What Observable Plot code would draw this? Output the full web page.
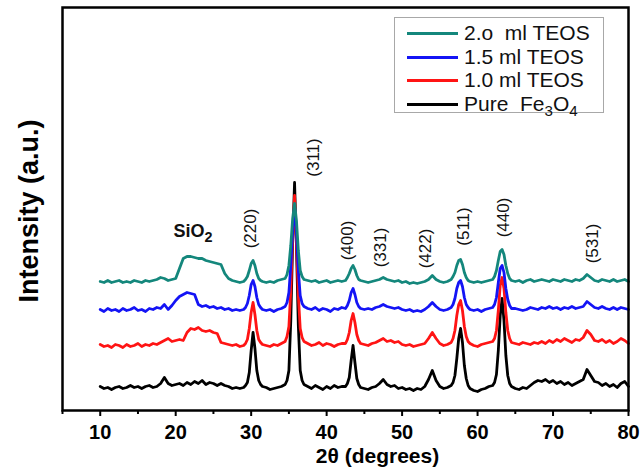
<!DOCTYPE html>
<html>
<head>
<meta charset="utf-8">
<script src="https://cdn.jsdelivr.net/npm/d3@7"></script>
<script src="https://cdn.jsdelivr.net/npm/@observablehq/plot@0.6"></script>
<style>
  body { margin: 0; background: #fff; }
  #chart { position: relative; width: 641px; height: 468px; font-family: "Liberation Sans", Arial, sans-serif; }
  #legend { position: absolute; left: 394px; top: 17px; width: 210px; height: 96px; border: 1px solid #a8a8a8; box-sizing: border-box; background: #fff; }
  #legend .row { position: absolute; left: 0; height: 24px; display: flex; align-items: center; white-space: pre; font-size: 21px; color: #111; }
  #legend .sw { width: 51px; height: 3px; margin-left: 12px; margin-right: 6px; }
  #legend sub { font-size: 0.72em; vertical-align: -0.3em; line-height: 0; }
</style>
</head>
<body>
<div id="chart"></div>
<script>
// XRD patterns of Fe3O4 and SiO2-coated Fe3O4 (stacked, arbitrary units)
const twoTheta = [
  10, 10.5, 11, 11.5, 12, 12.5, 13, 13.5, 14, 14.5, 15, 15.5, 16, 16.5, 17, 17.5, 18, 18.5, 19, 19.5,
  20, 20.5, 21, 21.5, 22, 22.5, 23, 23.5, 24, 24.5, 25, 25.5, 26, 26.5, 27, 27.5, 28, 28.5,
  29, 29.25, 29.5, 29.75, 30, 30.25, 30.5, 30.75, 31, 31.25, 31.5,
  32, 32.5, 33, 33.5, 34,
  34.5, 34.75, 35, 35.25, 35.5, 35.75, 36, 36.25, 36.5, 36.75, 37,
  37.5, 38, 38.5, 39, 39.5, 40, 40.5, 41, 41.5, 42,
  42.5, 42.75, 43, 43.25, 43.5, 43.75, 44, 44.25, 44.5,
  45, 45.5, 46, 46.5, 47, 47.5, 48, 48.5, 49, 49.5, 50, 50.5, 51, 51.5, 52, 52.5, 53, 53.5, 54, 54.5, 55, 55.5, 56,
  56.5, 56.75, 57, 57.25, 57.5, 57.75, 58, 58.25, 58.5, 58.75, 59,
  59.5, 60, 60.5, 61, 61.5,
  62, 62.25, 62.5, 62.75, 63, 63.25, 63.5, 63.75, 64, 64.25, 64.5,
  65, 65.5, 66, 66.5, 67, 67.5, 68, 68.5, 69, 69.5, 70, 70.5, 71, 71.5, 72, 72.5, 73, 73.5, 74, 74.5,
  75, 75.5, 76, 76.5, 77, 77.5, 78, 78.5, 79, 79.5, 80
];

const pureFe3O4 = [
  24, 22, 23, 21, 23, 24, 22, 23, 25, 23, 24, 22, 24, 25, 23, 24, 27, 33, 27, 25,
  26, 27, 25, 28, 26, 29, 27, 30, 26, 28, 27, 25, 27, 25, 24, 22, 23, 22,
  23, 25, 28, 38, 60, 78, 62, 40, 30, 26, 24,
  23, 21, 22, 23, 24,
  26, 30, 40, 90, 170, 228, 165, 85, 40, 30, 26,
  24, 22, 25, 23, 21, 24, 22, 25, 23, 24,
  24, 27, 33, 50, 65, 48, 32, 26, 23,
  22, 21, 23, 24, 27, 31, 26, 24, 25, 22, 23, 21, 22, 20, 22, 21, 24, 31, 40, 30, 24, 22, 23,
  25, 28, 35, 52, 72, 82, 68, 45, 32, 25, 22,
  20, 19, 21, 22, 24,
  25, 28, 36, 60, 95, 112, 90, 55, 35, 27, 24,
  22, 21, 23, 22, 25, 28, 30, 29, 31, 28, 30, 27, 29, 26, 28, 25, 27, 29, 31, 41,
  35, 29, 28, 25, 27, 24, 26, 23, 27, 29, 24
];

const teos10 = [
  66, 64, 65, 63, 66, 65, 63, 66, 64, 65, 67, 64, 66, 65, 67, 66, 68, 70, 72, 69,
  70, 71, 70, 78, 82, 81, 83, 80, 79, 80, 78, 77, 68, 67, 66, 65, 66, 64,
  65, 67, 71, 82, 98, 108, 96, 80, 71, 68, 66,
  65, 64, 66, 65, 67,
  69, 74, 84, 120, 175, 215, 170, 115, 82, 73, 69,
  67, 65, 66, 68, 65, 67, 66, 64, 66, 67,
  67, 71, 78, 90, 97, 88, 76, 70, 67,
  66, 65, 67, 68, 70, 72, 69, 70, 68, 69, 66, 65, 66, 64, 65, 66, 67, 72, 78, 72, 67, 65, 66,
  68, 72, 80, 95, 106, 110, 100, 84, 74, 69, 67,
  65, 64, 66, 67, 68,
  69, 72, 80, 100, 125, 133, 122, 98, 80, 72, 68,
  67, 66, 68, 67, 66, 68, 67, 69, 67, 70, 68, 71, 69, 72, 70, 68, 71, 70, 73, 80,
  76, 70, 69, 71, 68, 70, 67, 69, 72, 70, 67
];

const teos15 = [
  101, 99, 102, 100, 101, 99, 102, 100, 101, 103, 100, 101, 99, 102, 101, 103, 102, 106, 101, 105,
  110, 114, 116, 118, 117, 116, 106, 104, 105, 103, 104, 102, 103, 101, 102, 100, 101, 100,
  101, 103, 107, 115, 126, 130, 124, 113, 106, 103, 101,
  100, 101, 99, 101, 102,
  104, 108, 118, 145, 180, 205, 178, 140, 115, 107, 104,
  102, 101, 103, 100, 102, 101, 99, 102, 101, 103,
  102, 105, 110, 118, 122, 116, 108, 104, 102,
  101, 102, 101, 103, 104, 106, 104, 103, 102, 103, 101, 100, 101, 99, 100, 99, 101, 104, 108, 104, 101, 100, 101,
  103, 106, 112, 122, 128, 130, 124, 113, 106, 103, 101,
  100, 101, 99, 101, 102,
  103, 106, 113, 128, 142, 145, 138, 122, 111, 105, 102,
  102, 101, 100, 101, 103, 102, 101, 103, 102, 104, 102, 103, 101, 103, 102, 104, 102, 103, 104, 109,
  106, 103, 102, 104, 102, 101, 103, 101, 103, 102, 101
];

const teos20 = [
  129, 128, 130, 128, 129, 130, 128, 129, 128, 130, 129, 128, 130, 129, 130, 131, 133, 132, 130, 131,
  132, 142, 152, 154, 154, 153, 152, 152, 150, 149, 148, 147, 146, 137, 132, 130, 129, 128,
  129, 131, 134, 140, 147, 150, 145, 137, 132, 130, 129,
  128, 129, 128, 130, 131,
  132, 136, 145, 165, 192, 207, 190, 160, 140, 134, 131,
  130, 129, 130, 128, 129, 130, 128, 129, 130, 129,
  130, 133, 137, 142, 145, 141, 135, 131, 130,
  129, 128, 129, 130, 131, 133, 131, 130, 129, 130, 128, 129, 127, 128, 127, 128, 129, 131, 135, 131, 129, 128, 129,
  131, 134, 138, 145, 150, 151, 146, 138, 133, 130, 129,
  128, 129, 128, 129, 130,
  131, 134, 140, 150, 159, 161, 156, 145, 137, 132, 130,
  129, 130, 128, 130, 131, 129, 130, 131, 130, 129, 131, 130, 129, 131, 130, 129, 131, 130, 132, 136,
  133, 130, 129, 131, 130, 129, 131, 129, 130, 131, 129
];

// drawing order: bottom trace first, top trace last
const seriesNames = ["Pure  Fe3O4", "1.0 ml TEOS", "1.5 ml TEOS", "2.o  ml TEOS"];
const seriesColors = ["#000000", "#ff1414", "#1414f5", "#14877c"];
const seriesValues = [pureFe3O4, teos10, teos15, teos20];

// reflection labels
const peakLabels = ["(220)", "(311)", "(400)", "(331)", "(422)", "(511)", "(440)", "(531)"];
const peakLabelX = [29.9, 38.3, 42.8, 47.1, 53.1, 58.1, 63.4, 75.3];
const peakLabelY = [182, 253, 170, 163, 162, 184, 193, 167];

const silicaLabel = "SiO2";
const silicaLabelX = 19.7;
const silicaLabelY = 179;

const majorTicks = [10, 20, 30, 40, 50, 60, 70, 80];
const minorTicks = [5, 15, 25, 35, 45, 55, 65, 75];

const rows = seriesNames.flatMap((name, s) =>
  twoTheta.map((t, i) => ({series: name, theta: t, intensity: seriesValues[s][i]}))
);
const peaks = peakLabels.map((label, i) => ({label, x: peakLabelX[i], y: peakLabelY[i]}));

const font = '"Liberation Sans", Arial, sans-serif';

const chart = Plot.plot({
  width: 641,
  height: 468,
  marginLeft: 62,
  marginRight: 13,
  marginTop: 7,
  marginBottom: 58,
  style: {fontFamily: font, background: "#fff", color: "#000", overflow: "visible"},
  x: {domain: [5, 80], axis: null},
  y: {domain: [0, 403], axis: null},
  color: {domain: seriesNames, range: seriesColors},
  marks: [
    Plot.line(rows, {x: "theta", y: "intensity", z: "series", stroke: "series", strokeWidth: 2.8, strokeLinejoin: "round"}),
    Plot.text(peaks, {x: "x", y: "y", text: "label", rotate: -90, fontSize: 17, fill: "#111"}),
    Plot.text([silicaLabel], {x: silicaLabelX, y: silicaLabelY, text: d => d, textAnchor: "start", fontSize: 18, fontWeight: "bold", fill: "#111"}),
    Plot.frame({stroke: "#000", strokeWidth: 2.5}),
    Plot.axisX({ticks: minorTicks, tickSize: 4, strokeWidth: 2, text: null, label: null}),
    Plot.axisX({ticks: majorTicks, tickSize: 6, strokeWidth: 2, tickPadding: 8, fontSize: 20, fontWeight: "bold", label: null}),
    Plot.text(["2\u03b8 (degrees)"], {frameAnchor: "bottom", dx: 32, dy: 38, lineAnchor: "top", fontSize: 21, fontWeight: "bold", fill: "#000"}),
    Plot.text(["Intensity (a.u.)"], {frameAnchor: "left", dx: -33, dy: 2, rotate: -90, textAnchor: "middle", fontSize: 27, fontWeight: "bold", fill: "#000"})
  ]
});

// chemical subscript in the SiO2 annotation
d3.select(chart).selectAll("text").filter(function () { return this.textContent === silicaLabel; })
  .each(function () {
    const t = d3.select(this);
    t.text("SiO");
    t.append("tspan").attr("dy", "0.35em").attr("font-size", "0.8em").text("2");
  });

const host = document.getElementById("chart");
host.appendChild(chart);

// legend box, top entry first
const legend = d3.select(host).append("div").attr("id", "legend");
const rowTops = [3, 27, 50, 74];
seriesNames.slice().reverse().forEach((name, i) => {
  const color = seriesColors[seriesNames.length - 1 - i];
  const row = legend.append("div").attr("class", "row").style("top", rowTops[i] + "px");
  row.append("div").attr("class", "sw").style("background", color);
  row.append("span").html(name.replace(/([A-Za-z])(\d)/g, "$1<sub>$2</sub>"));
});
</script>
</body>
</html>
